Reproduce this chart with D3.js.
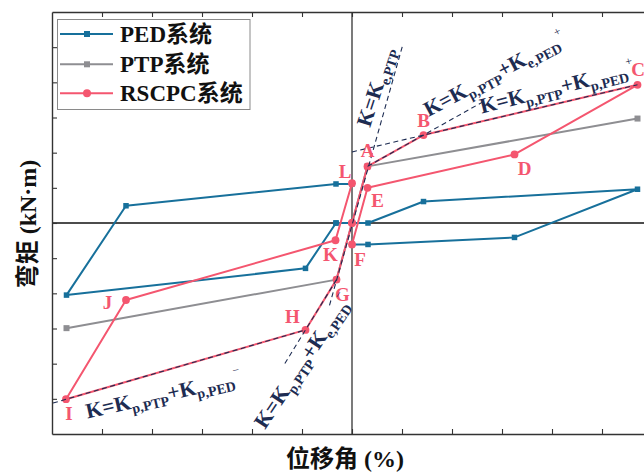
<!DOCTYPE html>
<html><head><meta charset="utf-8">
<script src="https://cdn.jsdelivr.net/npm/d3@7"></script>
<style>body{margin:0;background:#fff;overflow:hidden} svg{display:block}</style>
</head><body>
<svg id="c" width="644" height="472"></svg>
<script>
// ---- data ----
const tickValues = [-5,-4,-3,-2,-1,0,1,2,3,4,5];
const seriesNames = ["PED系统","PTP系统","RSCPC系统"];
const pedX = [-0.32,0.32,1.43,5.71,3.25,0.32,0,null,0,-0.32,-4.52,-5.71,-0.93,-0.32];
const pedY = [0,0,0.61,0.96,-0.41,-0.61,-0.61,null,1.11,1.11,0.49,-2.05,-1.29,0];
const ptpX = [-5.71,-0.31,0.31,5.71];
const ptpY = [-2.99,-1.61,1.61,2.97];
const rscpcX = [0,0.31,1.43,5.71,3.25,0.31,0,null,0,-0.31,-0.93,-5.72,-4.52,-0.33,0];
const rscpcY = [0,1.61,2.50,3.93,1.95,1.00,-0.61,null,0,-1.61,-3.04,-5.01,-2.19,-0.49,1.13];
const rscpcLabels = ["","A","B","C","D","E","F",null,"","G","H","I","J","K","L"];
const guideX = [[-0.45,1.02],[0.31,2.6],[-0.31,-1.38],[0,5.71],[-5.98,-0.93]];
const guideY = [[-2.34,5.09],[1.61,3.43],[-1.61,-4.08],[2.02,3.93],[-5.12,-3.04]];
const xTitle = "位移角 (%)";
const yTitle = "弯矩 (kN·m)";

// ---- layout / style ----
const svg = d3.select("#c");
const x = d3.scaleLinear().domain([-6,6]).range([52,652]);
const y = d3.scaleLinear().domain([-6,6]).range([434,12]);
const colors = ["#17709b","#8e8e92","#f4566f"];
const navy = "#1d2c52";
const serif = "'Liberation Serif','Times New Roman','Noto Sans CJK SC',serif";

// zero lines
svg.append("line").attr("x1",x(-6)).attr("x2",x(6)).attr("y1",y(0)).attr("y2",y(0))
  .attr("stroke","#111").attr("stroke-width",1.3);
svg.append("line").attr("x1",x(0)).attr("x2",x(0)).attr("y1",y(-6)).attr("y2",y(6))
  .attr("stroke","#333").attr("stroke-width",1.3);

function pts(xs, ys){ return xs.map((v,i)=>({x:v,y:ys[i],i})); }
const line = d3.line().defined(d=>d.x!==null).x(d=>x(d.x)).y(d=>y(d.y));

const series = [pts(pedX,pedY), pts(ptpX,ptpY), pts(rscpcX,rscpcY)];
series.forEach((s,k)=>{
  svg.append("path").datum(s).attr("d",line).attr("fill","none")
    .attr("stroke",colors[k]).attr("stroke-width",2).attr("stroke-linejoin","round");
  const valid = s.filter(d=>d.x!==null);
  if(k<2){
    const sz = k===0?5.5:6;
    svg.selectAll(null).data(valid).enter().append("rect")
      .attr("x",d=>x(d.x)-sz/2).attr("y",d=>y(d.y)-sz/2).attr("width",sz).attr("height",sz)
      .attr("fill",colors[k]);
  } else {
    svg.selectAll(null).data(valid).enter().append("circle")
      .attr("cx",d=>x(d.x)).attr("cy",d=>y(d.y)).attr("r",3.9).attr("fill",colors[k]);
  }
});

// guide dashed lines
guideX.forEach((gx,k)=>{
  svg.append("line").attr("x1",x(gx[0])).attr("x2",x(gx[1]))
    .attr("y1",y(guideY[k][0])).attr("y2",y(guideY[k][1]))
    .attr("stroke",navy).attr("stroke-width",1.1).attr("stroke-dasharray","5,3.5");
});

// point letters
const off = {A:[0,-15.5],B:[0,-15],C:[0.5,-15.5],D:[10,14],E:[10,12.5],F:[8,15.5],
  G:[6,15],H:[-13,-13],I:[3,14.5],J:[-18.5,2],K:[-5,14],L:[-7,-12]};
series[2].forEach(d=>{
  const lab = rscpcLabels[d.i];
  if(!lab) return;
  svg.append("text").attr("x",x(d.x)+off[lab][0]).attr("y",y(d.y)+off[lab][1])
    .attr("text-anchor","middle").attr("dominant-baseline","central")
    .attr("font-family",serif).attr("font-weight","bold").attr("font-size",19)
    .attr("fill",colors[2]).text(lab);
});

// stiffness annotations
const annos = [
  {p:[370,128],r:-72,parts:[["K=K","n"],["e,PTP","s"]]},
  {p:[428.5,117],r:-28,parts:[["K=K","n"],["p,PTP","s"],["+K","n"],["e,PED","s"],["+","p"]]},
  {p:[481.7,113.5],r:-14,parts:[["K=K","n"],["p,PTP","s"],["+K","n"],["p,PED","s"],["+","p"]]},
  {p:[87.5,418.5],r:-12.6,parts:[["K=K","n"],["p,PTP","s"],["+K","n"],["p,PED","s"],["\u2212","p"]]},
  {p:[265,430],r:-56,parts:[["K=K","n"],["p,PTP","s"],["+K","n"],["e,PED","s"],["\u2212","p"]]}
];
annos.forEach(a=>{
  const t = svg.append("text").attr("transform",`translate(${a.p[0]},${a.p[1]}) rotate(${a.r})`)
    .attr("font-family",serif).attr("font-weight","bold").attr("fill",navy);
  let cur = 0;
  a.parts.forEach(([txt,kind])=>{
    const target = kind==="n"?0:(kind==="s"?5:-11);
    t.append("tspan").attr("dy",target-cur)
      .attr("font-size",kind==="n"?21.5:(kind==="s"?14:12))
      .attr("font-weight",kind==="p"?"normal":"bold")
      .text(txt);
    cur = target;
  });
});

// axes (frame, inward ticks, no labels)
const tf = ()=>"";
svg.append("g").attr("transform",`translate(0,${y(-6)})`)
  .call(d3.axisBottom(x).tickValues(tickValues).tickSizeInner(-5).tickSizeOuter(0).tickFormat(tf));
svg.append("g").attr("transform",`translate(0,${y(6)})`)
  .call(d3.axisTop(x).tickValues(tickValues).tickSizeInner(-5).tickSizeOuter(0).tickFormat(tf));
svg.append("g").attr("transform",`translate(${x(-6)},0)`)
  .call(d3.axisLeft(y).tickValues(tickValues).tickSizeInner(-5).tickSizeOuter(0).tickFormat(tf));
svg.append("g").attr("transform",`translate(${x(6)},0)`)
  .call(d3.axisRight(y).tickValues(tickValues).tickSizeInner(-5).tickSizeOuter(0).tickFormat(tf));
svg.selectAll(".domain").attr("stroke","#333").attr("stroke-width",1.4);
svg.selectAll(".tick line").attr("stroke","#333").attr("stroke-width",1.1);

// legend
const lg = svg.append("g");
lg.append("rect").attr("x",57.5).attr("y",19.5).attr("width",192.5).attr("height",90)
  .attr("fill","#fff").attr("stroke","#8a8a8a").attr("stroke-width",1);
const ly = [34,64.3,93.3];
seriesNames.forEach((nm,k)=>{
  lg.append("line").attr("x1",60).attr("x2",113).attr("y1",ly[k]).attr("y2",ly[k])
    .attr("stroke",colors[k]).attr("stroke-width",2);
  if(k<2){
    lg.append("rect").attr("x",84).attr("y",ly[k]-3).attr("width",6).attr("height",6).attr("fill",colors[k]);
  } else {
    lg.append("circle").attr("cx",87).attr("cy",ly[k]).attr("r",4).attr("fill",colors[k]);
  }
  lg.append("text").attr("x",120).attr("y",ly[k]).attr("dominant-baseline","central")
    .attr("font-family",serif).attr("font-weight","bold").attr("font-size",23)
    .attr("fill","#111").text(nm);
});

// axis titles
svg.append("text").attr("x",345).attr("y",467).attr("text-anchor","middle")
  .attr("font-family",serif).attr("font-weight","bold").attr("font-size",24).attr("fill","#111")
  .text(xTitle);
svg.append("text").attr("transform","translate(36,224) rotate(-90)").attr("text-anchor","middle")
  .attr("font-family",serif).attr("font-weight","bold").attr("font-size",24).attr("fill","#111")
  .text(yTitle);
</script>
</body></html>
